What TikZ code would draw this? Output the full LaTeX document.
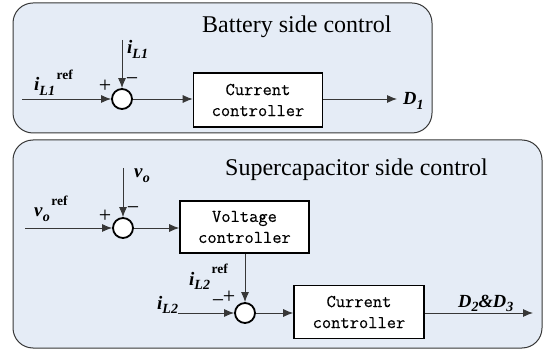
\documentclass[tikz,border=0pt]{standalone}
\usepackage{fontspec}
\setmainfont{Liberation Serif}
\newfontfamily\blkfont[FakeBold=0.25]{Latin Modern Mono}
\usetikzlibrary{arrows.meta}
\definecolor{panelblue}{RGB}{229,236,246}
\definecolor{edgegray}{RGB}{55,55,55}
\newcommand{\bi}[1]{\textbf{\textit{#1}}}
\newcommand{\sbs}[1]{\raisebox{-0.25em}{\fontsize{14}{14}\selectfont\bi{#1}}}
\newcommand{\sps}[1]{\hspace{1.5pt}\raisebox{0.6em}{\fontsize{13.5}{13.5}\selectfont\textbf{#1}}}
\begin{document}
\begin{tikzpicture}[x=1pt,y=-1pt,
  panel/.style={draw=edgegray, fill=panelblue, rounded corners=20pt, line width=1pt},
  title/.style={font=\fontsize{24}{24}\selectfont, inner sep=0, anchor=base west},
  blk/.style={draw, line width=1.6pt, fill=white, font=\blkfont\fontsize{18}{21}\selectfont, align=center, inner sep=0},
  sumc/.style={circle, draw, line width=1.8pt, fill=white, minimum size=20pt, inner sep=0},
  sig/.style={line width=0.9pt, draw=edgegray, -{Latex[length=10pt,width=8pt]}},
  lbl/.style={font=\fontsize{19}{19}\selectfont, inner sep=0, anchor=base west},
  dlbl/.style={font=\fontsize{18.5}{18.5}\selectfont, inner sep=0, anchor=base west},
  sgn/.style={font=\fontsize{22}{22}\selectfont, inner sep=0}]
\useasboundingbox (0,0) rectangle (548,352);
% panels
\draw[panel] (13,3) rectangle (432,133);
\draw[panel] (13,140) rectangle (542,348);
\node[title] (t1) at (202,33) {Battery side control};
\node[title] (t2) at (225,176) {Supercapacitor side control};
% top row
\node[sumc] (c1) at (122,99) {};
\node[blk, minimum width=129pt, minimum height=54pt] (b1) at (258,100) {Current\\controller};
\coordinate (in1) at (22,99);
\coordinate (fb1) at (122,40);
\coordinate (out1) at (397,99);
\draw[sig] (in1) -- (c1);
\draw[sig] (fb1) -- (c1);
\draw[sig] (c1) -- (in1 -| b1.west);
\draw[sig] (c1 -| b1.east) -- (out1);
\node[lbl] (l1) at (34,91) {\bi{i}\sbs{L1}\sps{ref}};
\node[lbl] (l2) at (127,54) {\bi{i}\sbs{L1}};
\node[sgn] (p1) at (105,86) {+};
\node[sgn] (m1) at (132,82) {−};
\node[dlbl] (d1) at (403,105) {\bi{D}\sbs{1}};
% bottom
\node[sumc] (c2) at (123,228) {};
\node[blk, minimum width=129pt, minimum height=52pt] (b2) at (244.5,227) {Voltage\\controller};
\coordinate (in2) at (25,228);
\coordinate (fb2) at (123,168);
\draw[sig] (in2) -- (c2);
\draw[sig] (fb2) -- (c2);
\draw[sig] (c2) -- (in2 -| b2.west);
\node[lbl] (l3) at (34,217) {\bi{v}\sbs{o}\sps{ref}};
\node[lbl] (l4) at (134,178) {\bi{v}\sbs{o}};
\node[sgn] (p2) at (105,216) {+};
\node[sgn] (m2) at (133,211) {−};
\node[sumc] (c3) at (245,313) {};
\node[blk, minimum width=130pt, minimum height=53pt] (b3) at (359,312) {Current\\controller};
\coordinate (in3) at (178,313);
\coordinate (out3) at (533,313);
\draw[sig] (b2.south -| c3) -- (c3);
\draw[sig] (in3) -- (c3);
\draw[sig] (c3) -- (c3 -| b3.west);
\draw[sig] (c3 -| b3.east) -- (out3);
\node[lbl] (l5) at (189,285) {\bi{i}\sbs{L2}\sps{ref}};
\node[lbl] (l6) at (157,309) {\bi{i}\sbs{L2}};
\node[sgn] (p3) at (229,297) {+};
\node[sgn] (m3) at (218,304) {−};
\node[dlbl] (d2) at (458,307) {\bi{D}\sbs{2}\bi{\&D}\sbs{3}};
\end{tikzpicture}
\end{document}
